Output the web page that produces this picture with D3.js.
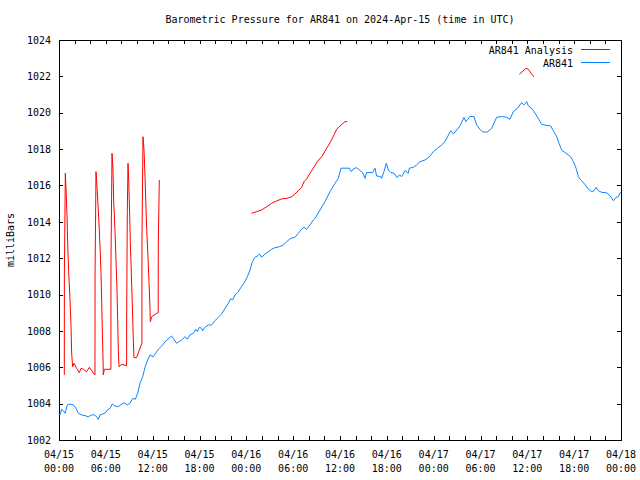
<!DOCTYPE html>
<html>
<head>
<meta charset="utf-8">
<script src="https://cdn.jsdelivr.net/npm/d3@7"></script>
<style>
  html, body { margin: 0; padding: 0; background: #fff; }
  svg { display: block; }
  text { font-family: "DejaVu Sans Mono", "Liberation Mono", monospace; font-size: 10px; fill: #000; }
</style>
</head>
<body>
<svg id="chart" width="640" height="480"></svg>
<script>
// ---- Data (hours since 2024-04-15 00:00 UTC, pressure in mb) ----
const titleText = "Barometric Pressure for AR841 on 2024-Apr-15 (time in UTC)";
const yLabel = "milliBars";
const seriesNames = ["AR841 Analysis", "AR841"];
const seriesColors = ["#ff0000", "#0a84ff"];

const yTicks = [1002, 1004, 1006, 1008, 1010, 1012, 1014, 1016, 1018, 1020, 1022, 1024];
const xTickHours = d3.range(0, 73, 2);
const xLabelHours = [0, 6, 12, 18, 24, 30, 36, 42, 48, 54, 60, 66, 72];
const xLabelDates = ["04/15", "04/15", "04/15", "04/15", "04/16", "04/16", "04/16", "04/16", "04/17", "04/17", "04/17", "04/17", "04/18"];
const xLabelTimes = ["00:00", "06:00", "12:00", "18:00", "00:00", "06:00", "12:00", "18:00", "00:00", "06:00", "12:00", "18:00", "00:00"];

const analysis1 = [
  [0.68,1005.58],[0.69,1011.08],[0.81,1016.67],[0.90,1015.84],[1.03,1014.28],[1.11,1012.82],[1.24,1011.26],
  [1.41,1009.74],[1.54,1008.23],[1.62,1006.77],[1.75,1006.03],[1.92,1006.22],[2.26,1005.94],[2.60,1005.70],
  [2.82,1005.94],[3.12,1005.89],[3.54,1005.76],[3.89,1006.00],[4.18,1005.81],[4.53,1005.61],[4.61,1005.58],
  [4.62,1011.08],[4.74,1016.76],[4.87,1015.93],[5.08,1014.28],[5.25,1012.73],[5.38,1011.17],[5.47,1009.61],
  [5.55,1008.05],[5.64,1006.40],[5.68,1005.58],[5.81,1005.89],[6.65,1005.89],[6.66,1011.81],[6.79,1017.77],
  [6.92,1016.85],[7.00,1015.20],[7.17,1013.55],[7.30,1011.90],[7.43,1010.25],[7.52,1008.60],[7.60,1006.95],
  [7.69,1006.03],[8.03,1006.16],[8.66,1006.09],[8.67,1008.88],[8.75,1014.56],[8.84,1017.22],[8.93,1016.30],
  [9.05,1014.47],[9.14,1012.82],[9.27,1011.17],[9.39,1009.52],[9.52,1007.50],[9.61,1006.53],[9.95,1006.53],
  [10.29,1006.95],[10.62,1007.32],[10.63,1013.00],[10.76,1018.68],[10.89,1017.95],[11.02,1016.49],[11.23,1013.64],
  [11.40,1012.08],[11.53,1010.71],[11.66,1009.24],[11.70,1008.51],[11.87,1008.78],[12.51,1008.97],[12.71,1009.00],
  [12.72,1012.73],[12.85,1016.30]
];
const analysis2 = [
  [24.68,1014.47],[25.32,1014.56],[25.96,1014.65],[26.60,1014.83],[27.24,1015.02],[27.88,1015.15],[28.52,1015.26],
  [29.17,1015.29],[29.81,1015.38],[30.23,1015.53],[30.66,1015.71],[31.09,1015.90],[31.39,1016.21],[31.73,1016.36],
  [32.15,1016.67],[32.58,1016.95],[33.09,1017.31],[33.65,1017.58],[34.29,1018.04],[34.80,1018.41],[35.23,1018.78],
  [35.57,1019.09],[36.00,1019.27],[36.64,1019.51],[36.94,1019.51]
];
const analysis3 = [
  [58.97,1022.11],[59.83,1022.44],[60.12,1022.39],[60.55,1022.13],[60.85,1021.98]
];

const observed = [
  [0.00,1003.45],[0.13,1003.38],[0.34,1003.69],[0.55,1003.61],[0.77,1003.47],[1.07,1003.93],[1.41,1003.98],
  [1.84,1003.93],[2.18,1003.74],[2.48,1003.47],[2.90,1003.38],[3.33,1003.34],[3.76,1003.28],[4.18,1003.38],
  [4.53,1003.38],[4.83,1003.28],[5.04,1003.13],[5.25,1003.38],[5.59,1003.43],[5.89,1003.47],[6.19,1003.65],
  [6.53,1003.74],[6.83,1003.98],[7.17,1003.87],[7.60,1003.83],[7.90,1003.93],[8.33,1004.05],[8.75,1003.93],
  [9.10,1004.02],[9.44,1004.29],[9.78,1004.24],[10.08,1004.57],[10.38,1005.12],[10.72,1005.48],[11.02,1006.00],
  [11.36,1006.40],[11.66,1006.68],[12.08,1006.58],[12.43,1006.80],[12.85,1007.04],[13.28,1007.23],
  [13.79,1007.50],[14.43,1007.72],[15.07,1007.32],[15.71,1007.50],[16.14,1007.68],[16.44,1007.54],[16.78,1007.78],
  [17.21,1007.87],[17.51,1008.09],[17.72,1007.96],[17.98,1008.20],[18.28,1008.14],[18.40,1008.01],[18.70,1008.20],
  [19.13,1008.33],[19.56,1008.33],[19.98,1008.56],[20.41,1008.75],[20.84,1008.93],[21.27,1009.24],[21.69,1009.52],
  [21.99,1009.77],[22.25,1009.70],[22.55,1009.98],[22.89,1010.10],[23.32,1010.40],[23.74,1010.65],[24.13,1010.98],
  [24.47,1011.35],[24.77,1011.81],[25.11,1012.05],[25.41,1012.12],[25.67,1012.23],[25.96,1012.05],[26.39,1012.23],
  [26.82,1012.36],[27.24,1012.49],[27.67,1012.58],[28.23,1012.63],[28.74,1012.73],[29.17,1012.91],[29.68,1013.09],
  [30.23,1013.15],[30.66,1013.37],[31.09,1013.59],[31.39,1013.70],[31.73,1013.59],[32.15,1013.83],[32.58,1014.10],
  [32.80,1014.19],[33.44,1014.65],[34.08,1015.11],[34.72,1015.66],[35.36,1016.12],[35.78,1016.39],[36.13,1016.95],
  [36.64,1016.95],[37.19,1016.95],[37.45,1016.76],[37.71,1016.91],[38.13,1016.98],[38.56,1016.82],[38.90,1016.71],
  [39.20,1016.39],[39.41,1016.71],[40.18,1016.71],[40.48,1016.95],[40.69,1016.52],[41.21,1016.49],[41.33,1016.39],
  [41.63,1016.76],[41.93,1017.22],[42.19,1016.85],[42.49,1016.72],[42.92,1016.67],[43.34,1016.43],[43.60,1016.58],
  [43.90,1016.49],[44.33,1016.82],[44.75,1016.67],[44.88,1016.95],[45.39,1017.00],[45.82,1017.13],[46.25,1017.31],
  [46.89,1017.40],[47.19,1017.49],[47.53,1017.62],[47.96,1017.86],[48.47,1018.04],[49.02,1018.23],[49.45,1018.41],
  [49.75,1018.65],[50.18,1019.01],[50.52,1018.83],[50.95,1019.05],[51.37,1019.27],[51.88,1019.74],[52.14,1019.51],
  [52.65,1019.79],[53.16,1019.79],[53.51,1019.33],[53.93,1019.09],[54.28,1018.94],[54.87,1018.94],[55.43,1019.14],
  [56.07,1019.75],[56.71,1019.79],[57.35,1019.75],[57.78,1019.64],[58.20,1020.06],[58.72,1020.24],[59.27,1020.55],
  [59.57,1020.43],[59.92,1020.61],[60.13,1020.37],[60.56,1020.24],[60.86,1020.06],[61.41,1019.69],[61.84,1019.36],
  [62.48,1019.30],[62.99,1019.27],[63.33,1019.01],[63.76,1018.68],[64.06,1018.32],[64.40,1017.95],[64.96,1017.77],
  [65.55,1017.58],[65.90,1017.31],[66.24,1016.95],[66.54,1016.49],[66.84,1016.30],[67.27,1016.12],[67.82,1015.79],
  [68.25,1015.66],[68.55,1015.71],[68.81,1015.90],[69.11,1015.71],[69.53,1015.62],[70.17,1015.60],[70.60,1015.42],
  [71.03,1015.16],[71.37,1015.35],[71.67,1015.38],[71.89,1015.60],[72.00,1015.66]
];

// ---- Layout ----
const svg = d3.select("#chart");
const plot = { left: 59, right: 621, top: 40, bottom: 440 };

const x = d3.scaleLinear().domain([0, 72]).range([plot.left, plot.right]);
const y = d3.scaleLinear().domain([1002, 1024]).range([plot.bottom, plot.top]);

svg.append("rect").attr("width", 640).attr("height", 480).attr("fill", "#fff");

// Title
svg.append("text").attr("x", (plot.left + plot.right) / 2).attr("y", 23)
  .attr("text-anchor", "middle").text(titleText);

// Y axis label
svg.append("text").attr("transform", "translate(14,240) rotate(-90)")
  .attr("text-anchor", "middle").text(yLabel);

// Axes (inward ticks)
const tickLen = 4;
const gBottom = svg.append("g").attr("transform", `translate(0,${plot.bottom})`)
  .call(d3.axisBottom(x).tickValues(xTickHours).tickSize(-tickLen).tickFormat(""));
const gTop = svg.append("g").attr("transform", `translate(0,${plot.top})`)
  .call(d3.axisTop(x).tickValues(xTickHours).tickSize(-tickLen).tickFormat(""));
const gLeft = svg.append("g").attr("transform", `translate(${plot.left},0)`)
  .call(d3.axisLeft(y).tickValues(yTicks).tickSize(-tickLen).tickPadding(8).tickFormat(d3.format("d")));
const gRight = svg.append("g").attr("transform", `translate(${plot.right},0)`)
  .call(d3.axisRight(y).tickValues(yTicks).tickSize(-tickLen).tickFormat(""));

[gBottom, gTop, gLeft, gRight].forEach(g => {
  g.select(".domain").remove();
  g.selectAll("line").attr("stroke", "#000").attr("shape-rendering", "crispEdges");
  g.selectAll("text").attr("font-family", null).attr("font-size", null).style("fill", "#000");
});
gLeft.attr("font-size", null).attr("font-family", null);
gBottom.attr("font-size", null).attr("font-family", null);

// X labels (two lines)
const xl = svg.append("g");
xLabelHours.forEach((h, i) => {
  xl.append("text").attr("x", x(h)).attr("y", 457.5).attr("text-anchor", "middle").text(xLabelDates[i]);
  xl.append("text").attr("x", x(h)).attr("y", 471.5).attr("text-anchor", "middle").text(xLabelTimes[i]);
});

// Frame
svg.append("rect")
  .attr("x", plot.left + 0.5).attr("y", plot.top + 0.5)
  .attr("width", plot.right - plot.left).attr("height", plot.bottom - plot.top)
  .attr("fill", "none").attr("stroke", "#000").attr("shape-rendering", "crispEdges");

// Lines
const line = d3.line().x(d => x(d[0])).y(d => y(d[1]));
const gData = svg.append("g");
[analysis1, analysis2, analysis3].forEach(seg => {
  gData.append("path").datum(seg).attr("d", line)
    .attr("fill", "none").attr("stroke", seriesColors[0]).attr("stroke-width", 1);
});
gData.append("path").datum(observed).attr("d", line)
  .attr("fill", "none").attr("stroke", seriesColors[1]).attr("stroke-width", 1);

// Legend
const legend = svg.append("g");
seriesNames.forEach((name, i) => {
  const ly = 50 + i * 13;
  legend.append("text").attr("x", 573).attr("y", ly + 3.5).attr("text-anchor", "end").text(name);
  legend.append("line").attr("x1", 581).attr("x2", 610).attr("y1", ly - 0.5).attr("y2", ly - 0.5)
    .attr("stroke", seriesColors[i]).attr("stroke-width", 1);
});
</script>
</body>
</html>
